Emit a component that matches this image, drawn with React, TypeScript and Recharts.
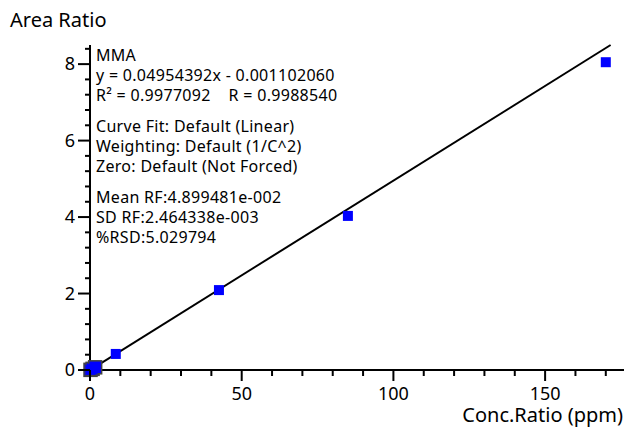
import { ScatterChart, Scatter, XAxis, YAxis, ReferenceLine } from "recharts"

const conc = [0.17, 0.85, 1.7, 8.5, 42.5, 85, 170]
const areaRatio = [0.004, 0.03, 0.07, 0.42, 2.09, 4.03, 8.05]

const xTicks = [0, 10, 20, 30, 40, 50, 60, 70, 80, 90, 100, 110, 120, 130, 140, 150, 160, 170]
const xLabels = [0, 50, 100, 150]
const yTicks = [0, 0.4, 0.8, 1.2, 1.6, 2, 2.4, 2.8, 3.2, 3.6, 4, 4.4, 4.8, 5.2, 5.6, 6, 6.4, 6.8, 7.2, 7.6, 8, 8.4]
const yLabels = [0, 2, 4, 6, 8]

const slope = 0.04954392
const intercept = -0.00110206
const yMax = 8.5
const xMax = 176

const infoGroups = [
  ["MMA", "y = 0.04954392x - 0.001102060", "R² = 0.9977092    R = 0.9988540"],
  ["Curve Fit: Default (Linear)", "Weighting: Default (1/C^2)", "Zero: Default (Not Forced)"],
  ["Mean RF:4.899481e-002", "SD RF:2.464338e-003", "%RSD:5.029794"],
]

const points = conc.map((c, i) => ({ x: c, y: areaRatio[i] }))
const lowPoints = points.filter((p) => p.x < 5)
const font = "'Noto Sans', sans-serif"

function XTick(props: any) {
  const { x, y, payload } = props
  const major = xLabels.includes(payload.value)
  return (
    <g>
      <line x1={x} x2={x} y1={y} y2={y + (major ? 11 : 6)} stroke="#000" strokeWidth={2} />
      {major && (
        <text x={x} y={y + 24} dy="0.35em" textAnchor="middle" fontSize={18} fontFamily={font} fill="#000">
          {payload.value}
        </text>
      )}
    </g>
  )
}

function YTick(props: any) {
  const { x, y, payload } = props
  const major = yLabels.includes(payload.value)
  return (
    <g>
      <line x1={x - (major ? 12 : 5)} x2={x} y1={y} y2={y} stroke="#000" strokeWidth={2} />
      {major && (
        <text x={x - 15} y={y} dy="0.35em" textAnchor="end" fontSize={18} fontFamily={font} fill="#000">
          {payload.value}
        </text>
      )}
    </g>
  )
}

const square = (size: number, outline: boolean) => (p: any) => (
  <rect
    x={p.cx - size / 2}
    y={p.cy - size / 2}
    width={size}
    height={size}
    fill="#0000ff"
    stroke={outline ? "#444" : "none"}
    strokeWidth={outline ? 1.5 : 0}
  />
)

export default function App() {
  const xEnd = (yMax - intercept) / slope
  return (
    <div style={{ position: "absolute", left: 0, top: 0, width: 625, height: 435, background: "#fff", fontFamily: font }}>
      <ScatterChart width={625} height={435} margin={{ top: 45, right: 1, bottom: 0, left: 0 }}>
        <XAxis
          type="number"
          dataKey="x"
          domain={[0, xMax]}
          ticks={xTicks}
          interval={0}
          height={65}
          tickSize={0}
          tickMargin={0}
          tickLine={false}
          tick={<XTick />}
          axisLine={{ stroke: "#000", strokeWidth: 2 }}
        />
        <YAxis
          type="number"
          dataKey="y"
          domain={[0, yMax]}
          ticks={yTicks}
          interval={0}
          width={90}
          tickSize={0}
          tickMargin={0}
          tickLine={false}
          tick={<YTick />}
          axisLine={{ stroke: "#000", strokeWidth: 2 }}
        />
        <Scatter data={lowPoints} shape={square(13, true)} isAnimationActive={false} />
        <Scatter data={points} shape={square(10, false)} isAnimationActive={false} />
        <ReferenceLine
          segment={[{ x: 0, y: intercept }, { x: xEnd, y: yMax }]}
          stroke="#000"
          strokeWidth={2}
          ifOverflow="visible"
        />
      </ScatterChart>
      <div style={{ position: "absolute", left: 10, top: 7, fontSize: 20, lineHeight: "26px", color: "#000" }}>
        Area Ratio
      </div>
      <div style={{ position: "absolute", right: 2, top: 406, fontSize: 20, lineHeight: "18px", color: "#000" }}>
        Conc.Ratio (ppm)
      </div>
      <div
        style={{
          position: "absolute",
          left: 96,
          top: 45,
          fontSize: 16,
          letterSpacing: "0.3px",
          lineHeight: "20px",
          color: "#000",
        }}
      >
        {infoGroups.map((g, gi) => (
          <div key={gi} style={{ marginTop: gi === 0 ? 0 : 11 }}>
            {g.map((l, li) => (
              <div key={li} style={{ whiteSpace: "pre" }}>{l}</div>
            ))}
          </div>
        ))}
      </div>
    </div>
  )
}
